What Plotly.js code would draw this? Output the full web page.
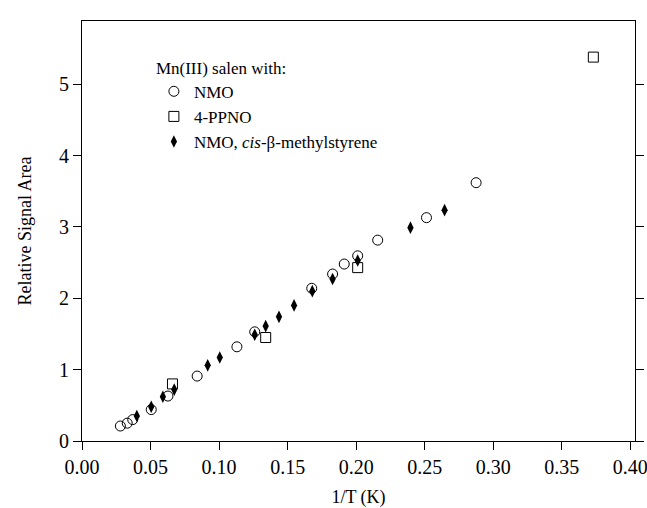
<!DOCTYPE html>
<html>
<head>
<meta charset="utf-8">
<script src="https://cdn.plot.ly/plotly-3.0.1.min.js"></script>
<style>html,body{margin:0;padding:0;background:#fff;}#chart{width:647px;height:508px;}</style>
</head>
<body>
<div id="chart"></div>
<script>
// NMO (open circles)
const nmoX = [0.028, 0.033, 0.037, 0.0505, 0.0627, 0.084, 0.113, 0.126, 0.1676, 0.1828, 0.1913, 0.2011, 0.2157, 0.2513, 0.2875];
const nmoY = [0.21, 0.25, 0.30, 0.44, 0.63, 0.91, 1.32, 1.53, 2.14, 2.34, 2.48, 2.595, 2.815, 3.13, 3.62];
// 4-PPNO (open squares)
const ppnoX = [0.066, 0.134, 0.2011, 0.373];
const ppnoY = [0.80, 1.45, 2.43, 5.38];
// NMO, cis-beta-methylstyrene (filled diamonds)
const styX = [0.040, 0.0505, 0.059, 0.0673, 0.0917, 0.1005, 0.126, 0.134, 0.1437, 0.1547, 0.168, 0.1828, 0.2011, 0.2396, 0.2645];
const styY = [0.35, 0.48, 0.62, 0.72, 1.06, 1.17, 1.49, 1.61, 1.74, 1.90, 2.10, 2.27, 2.53, 2.99, 3.235];

const seriesNames = ["NMO", "4-PPNO", "NMO, <i>cis</i>-β-methylstyrene"];
const legendTitle = "Mn(III) salen with:";
const xTitle = "1/T (K)";
const yTitle = "Relative Signal Area";

const FONT = "'Liberation Serif', 'Times New Roman', Times, serif";

const traces = [
  {x: nmoX, y: nmoY, name: seriesNames[0], type: "scatter", mode: "markers",
   marker: {symbol: "circle-open", size: 10, color: "#000", line: {width: 1, color: "#000"}}},
  {x: ppnoX, y: ppnoY, name: seriesNames[1], type: "scatter", mode: "markers",
   marker: {symbol: "square-open", size: 10, color: "#000", line: {width: 1, color: "#000"}}},
  {x: styX, y: styY, name: seriesNames[2], type: "scatter", mode: "markers",
   marker: {symbol: "diamond-tall", size: 9, color: "#000", line: {width: 0}}}
];

const layout = {
  width: 647, height: 508,
  margin: {l: 82, r: 12, t: 21, b: 67},
  paper_bgcolor: "#fff", plot_bgcolor: "#fff",
  font: {family: FONT, color: "#000", size: 18},
  showlegend: true,
  legend: {
    x: 0.13, y: 0.927, xanchor: "left", yanchor: "top",
    bgcolor: "rgba(0,0,0,0)", borderwidth: 0,
    font: {family: FONT, size: 17, color: "#000"},
    title: {text: legendTitle, font: {family: FONT, size: 17, color: "#000"}},
    itemwidth: 30, tracegroupgap: 0
  },
  xaxis: {
    range: [0, 0.4034], dtick: 0.05, tick0: 0, tickformat: ".2f",
    showgrid: false, zeroline: false,
    showline: true, linecolor: "#000", linewidth: 1, mirror: true,
    ticks: "outside", ticklen: 8, tickcolor: "#000", tickwidth: 1,
    ticklabeloverflow: "allow",
    tickfont: {family: FONT, size: 20, color: "#000"},
    title: {text: xTitle, font: {family: FONT, size: 18, color: "#000"}, standoff: 16}
  },
  yaxis: {
    range: [0, 5.886], dtick: 1, tick0: 0,
    showgrid: false, zeroline: false,
    showline: true, linecolor: "#000", linewidth: 1, mirror: "ticks",
    ticks: "outside", ticklen: 8, tickcolor: "#000", tickwidth: 1,
    tickfont: {family: FONT, size: 20, color: "#000"},
    title: {text: yTitle, font: {family: FONT, size: 18, color: "#000"}, standoff: 22}
  }
};

Plotly.newPlot("chart", traces, layout, {displayModeBar: false, staticPlot: true});
</script>
</body>
</html>
